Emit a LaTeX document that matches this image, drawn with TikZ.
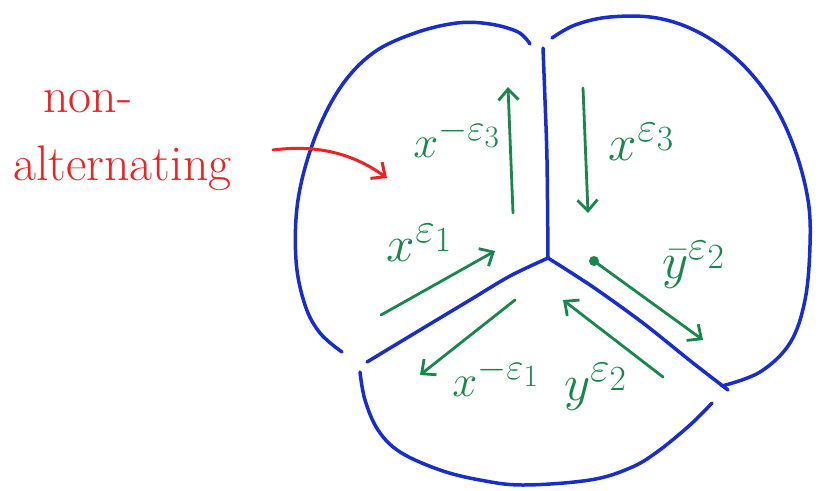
\documentclass[tikz,border=0pt]{standalone}
\usetikzlibrary{arrows.meta}
\definecolor{inkblue}{RGB}{25,45,205}
\definecolor{inkgreen}{RGB}{25,135,75}
\definecolor{inkred}{RGB}{235,35,35}
\newcommand{\biglab}[1]{\scalebox{2.05}{$#1$}}
\newcommand{\midlab}[1]{\scalebox{1.8}{$#1$}}
\begin{document}
\begin{tikzpicture}[x=1pt,y=-1pt,
  wall/.style={draw=inkblue,line width=3.5pt,line cap=round,line join=round},
  garrow/.style={draw=inkgreen,line width=2.8pt,line cap=round,line join=round,-{Straight Barb[length=11pt,width=20pt]}},
  glabel/.style={text=inkgreen,font=\Huge,inner sep=0pt},
  rlabel/.style={text=inkred,font=\fontsize{50}{56}\selectfont,inner sep=0pt,anchor=base west},
  rarrow/.style={draw=inkred,line width=3pt,line cap=round,-{Straight Barb[length=11pt,width=20pt]}}]
\useasboundingbox[fill=white] (0,0) rectangle (826,490);
% blue walls
\draw[wall] plot[smooth,tension=0.6] coordinates {(530,44) (518,32) (490,24) (457,23) (415,33) (373,53) (340,88) (314,140) (298,200) (296,260) (305,305) (320,333) (342,352)};
\draw[wall] plot[smooth,tension=0.6] coordinates {(552,38) (575,25) (610,17) (657,18) (700,33) (740,62) (773,103) (795,150) (808,200) (810,245) (805,300) (790,343) (760,372) (722,386)};
\draw[wall] plot[smooth,tension=0.6] coordinates {(360,372) (365,400) (378,430) (400,452) (440,470) (480,480) (523,485) (590,480) (630,468) (657,452) (690,425) (712,403)};
\coordinate (ctr) at (548,258);
\draw[wall] plot[smooth,tension=0.5] coordinates {(543,48) (545,100) (547,160) (548,258)};
\draw[wall] plot[smooth,tension=0.5] coordinates {(548,258) (510,276) (470,300) (420,330) (367,362)};
\draw[wall] plot[smooth,tension=0.5] coordinates {(548,258) (593,287) (643,323) (693,363) (728,390)};
% green arrows
\coordinate (a3s) at (513,213); \coordinate (a3e) at (508,87);
\coordinate (b3s) at (583,88);  \coordinate (b3e) at (588,213);
\coordinate (a1s) at (381,315); \coordinate (a1e) at (495,251);
\coordinate (b1s) at (515,300); \coordinate (b1e) at (420,375);
\coordinate (y2s) at (663,377); \coordinate (y2e) at (563,300);
\coordinate (z2s) at (594,261); \coordinate (z2e) at (703,340);
\draw[garrow] (a3s) -- (a3e);
\draw[garrow] (b3s) -- (b3e);
\draw[garrow] (a1s) -- (a1e);
\draw[garrow] (b1s) -- (b1e);
\draw[garrow] (y2s) -- (y2e);
\fill[inkgreen] (z2s) circle (5pt);
\draw[garrow] (z2s) -- (z2e);
% green labels
\node[glabel] (la3) at (457,138) {\midlab{x^{-\varepsilon_3}}};
\node[glabel] (lb3) at (642,142) {\biglab{x^{\varepsilon_3}}};
\node[glabel] (la1) at (420,243) {\biglab{x^{\varepsilon_1}}};
\node[glabel] (lb1) at (496,377) {\midlab{x^{-\varepsilon_1}}};
\node[glabel] (ly2) at (596,387) {\biglab{y^{\varepsilon_2}}};
\node[glabel] (lz2) at (694,265) {\biglab{\bar{y}^{\varepsilon_2}}};
% red label
\node[rlabel] (non) at (43,112) {non-};
\node[rlabel] (alt) at (13,180) {alternating};
\coordinate (rs) at (273,150); \coordinate (re) at (387,178);
\draw[rarrow] (rs) .. controls (320,144) and (355,155) .. (re);
\end{tikzpicture}
\end{document}
